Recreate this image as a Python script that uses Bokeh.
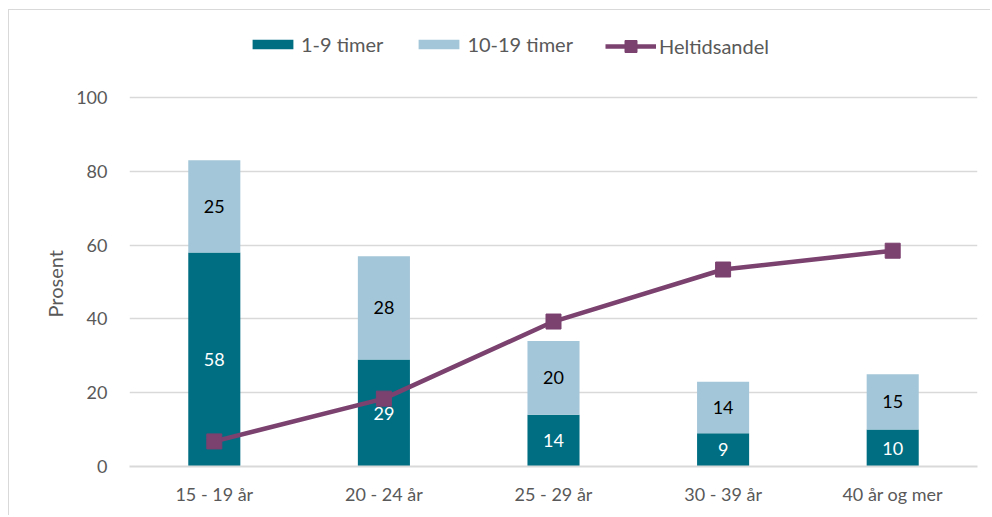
from bokeh.plotting import figure
from bokeh.models import (ColumnDataSource, Range1d, FixedTicker, Legend, LegendItem,
                          LabelSet, Title, FactorRange)
from bokeh.core.properties import value
from bokeh.embed import file_html
from bokeh.resources import INLINE

categories = ["15 - 19 år", "20 - 24 år", "25 - 29 år", "30 - 39 år", "40 år og mer"]
timer_1_9 = [58, 29, 14, 9, 10]
timer_10_19 = [25, 28, 20, 14, 15]
heltidsandel = [6.8, 18.4, 39.3, 53.4, 58.5]
y_ticks = [0, 20, 40, 60, 80, 100]

DARK = "#006E82"
LIGHT = "#A3C6D9"
PURPLE = "#7B416F"
GREY_TXT = "#595959"
GRID = "#D9D9D9"
FONT = "Lato"

src = ColumnDataSource(dict(
    cat=categories,
    a=timer_1_9,
    b=timer_10_19,
    h=heltidsandel,
    a_mid=[v / 2 for v in timer_1_9],
    b_mid=[a + b / 2 for a, b in zip(timer_1_9, timer_10_19)],
    a_txt=[str(v) for v in timer_1_9],
    b_txt=[str(v) for v in timer_10_19],
))

W, H = 982, 506
p = figure(x_range=FactorRange(*categories), y_range=Range1d(0, 118.2),
           width=W, height=H, output_backend="svg", toolbar_location=None,
           min_border_left=120, min_border_right=W + 9 - 977, min_border_top=20,
           min_border_bottom=H - 20 - 436)
p.styles = {"margin-left": "8px", "margin-top": "9px",
            "border-top": "1px solid #D9D9D9", "border-left": "1px solid #D9D9D9"}
p.outline_line_color = None
p.x_range.range_padding = 0

r = p.vbar_stack(["a", "b"], x="cat", width=0.307, color=[DARK, LIGHT], source=src, line_color=None)
ln = p.line(x="cat", y="h", source=src, line_color=PURPLE, line_width=4.5)
mk = p.scatter(x="cat", y="h", source=src, marker="square", size=15, fill_color=PURPLE, line_color=PURPLE)

p.add_layout(LabelSet(x="cat", y="a_mid", text="a_txt", source=src, text_color="white",
                      text_font=value(FONT), text_font_size="18px", text_align="center",
                      text_baseline="middle"))
p.add_layout(LabelSet(x="cat", y="b_mid", text="b_txt", source=src, text_color="black",
                      text_font=value(FONT), text_font_size="18px", text_align="center",
                      text_baseline="middle"))

# y-axis title as a left-side Title, placed to centre on the 0-100 range
p.add_layout(Title(text="Prosent", align="left", offset=149, standoff=14,
                   text_font=FONT, text_font_size="20px", text_font_style="normal",
                   text_color=GREY_TXT), "left")

# axes
p.yaxis.ticker = FixedTicker(ticks=y_ticks)
p.ygrid.ticker = FixedTicker(ticks=y_ticks)
p.ygrid.grid_line_color = GRID
p.ygrid.grid_line_width = 1.5
p.xgrid.grid_line_color = None
p.yaxis.axis_line_color = None
p.yaxis.major_tick_line_color = None
p.yaxis.minor_tick_line_color = None
p.yaxis.major_label_standoff = 16
p.yaxis.major_label_text_font = FONT
p.yaxis.major_label_text_font_size = "18px"
p.yaxis.major_label_text_color = GREY_TXT

p.xaxis.axis_line_color = GRID
p.xaxis.axis_line_width = 2
p.xaxis.major_tick_line_color = None
p.xaxis.minor_tick_line_color = None
p.xaxis.major_label_standoff = 10
p.xaxis.major_label_text_font = FONT
p.xaxis.major_label_text_font_size = "18px"
p.xaxis.major_label_text_color = GREY_TXT

common = dict(orientation="horizontal", label_standoff=3, spacing=30, padding=0, margin=0,
              border_line_color=None, background_fill_alpha=0, label_text_font=FONT,
              label_text_font_size="20px", label_text_color=GREY_TXT)
legend1 = Legend(items=[
    LegendItem(label="1-9 timer", renderers=[r[0]]),
    LegendItem(label="10-19 timer", renderers=[r[1]]),
], location=(247 - 129, 466 - 56), glyph_width=51, glyph_height=12, label_height=20, **common)
legend2 = Legend(items=[
    LegendItem(label="Heltidsandel", renderers=[ln, mk]),
], location=(605 - 129, 466 - 61), glyph_width=51, glyph_height=30, label_height=30, **common)
p.add_layout(legend1, "center")
p.add_layout(legend2, "center")

open("out.html", "w").write(file_html(p, INLINE))
